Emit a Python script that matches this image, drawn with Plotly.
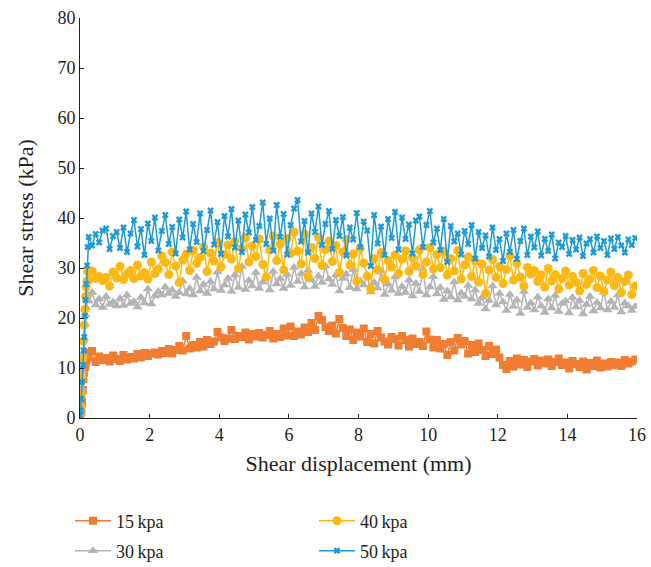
import numpy as np
import plotly.graph_objects as go

# Shear displacement grid (mm): dense start of loading, then 0.1 mm steps
ramp_x = [0.0, 0.02, 0.04, 0.06, 0.08, 0.10, 0.12, 0.14, 0.16, 0.18, 0.20, 0.22]
main_x = np.round(0.25 + 0.1 * np.arange(158), 2).tolist()

# Shear stress (kPa) during the initial rise
ramp_15 = [0.0, 0.4, 1.3, 3.2, 5.6, 7.8, 9.1, 10.2, 10.9, 11.6, 12.3, 13.1]
ramp_30 = [0.3, 1.0, 2.7, 5.8, 9.4, 12.8, 15.9, 18.7, 20.6, 22.1, 23.8, 24.6]
ramp_40 = [0.8, 2.1, 4.6, 8.3, 11.9, 15.4, 18.6, 21.7, 24.3, 26.2, 27.4, 29.3]
ramp_50 = [0.4, 1.5, 3.8, 7.2, 10.6, 13.5, 16.2, 20.4, 23.6, 26.8, 30.5, 34.2]

# Shear stress (kPa) from 0.25 mm onwards, one row per millimetre
stress_15 = [
    12.1, 13.4, 11.2, 12.3, 11.6, 12.0, 11.3, 12.5, 11.8, 11.4,
    12.6, 11.7, 12.2, 11.9, 12.8, 12.1, 13.0, 12.4, 12.9, 13.1,
    12.7, 13.4, 13.0, 13.8, 12.9, 13.6, 14.4, 13.5, 16.4, 13.9,
    14.6, 14.1, 15.2, 14.3, 15.6, 14.8, 15.3, 17.2, 16.1, 15.4,
    15.9, 17.6, 15.8, 16.4, 16.2, 17.1, 15.7, 16.8, 16.3, 17.0,
    16.1, 16.6, 17.4, 15.9, 16.8, 16.2, 17.9, 16.5, 18.3, 16.4,
    17.3, 16.7, 18.1, 17.2, 19.0, 17.6, 20.4, 19.6, 18.2, 17.4,
    18.5, 16.9, 19.8, 18.0, 16.4, 17.7, 15.6, 17.1, 16.3, 17.9,
    15.2, 16.8, 14.9, 17.4, 16.1, 15.3, 14.7, 16.2, 15.8, 14.5,
    16.4, 15.6, 14.3, 15.9, 14.8, 15.2, 14.4, 17.3, 15.7, 14.1,
    15.6, 13.9, 14.8, 12.6, 15.2, 13.5, 16.0, 14.7, 15.4, 12.9,
    14.6, 13.2, 14.9, 13.6, 12.4, 14.4, 12.8, 13.7, 12.1, 10.6,
    9.8, 11.4, 10.3, 11.9, 10.7, 11.6, 10.2, 11.3, 11.8, 10.5,
    11.5, 10.9, 11.7, 10.4, 11.2, 11.9, 10.6, 11.1, 9.9, 11.4,
    10.8, 10.2, 11.3, 9.7, 11.0, 10.4, 11.5, 10.1, 10.9, 10.3,
    11.2, 10.6, 11.1, 10.4, 11.6, 10.9, 11.3, 11.7,
]
stress_30 = [
    23.4, 25.1, 22.6, 23.8, 22.1, 24.3, 22.7, 23.2, 22.4, 23.9,
    22.5, 24.6, 22.9, 23.3, 22.2, 24.1, 23.0, 25.8, 22.8, 24.4,
    25.3, 24.6, 26.2, 24.9, 25.6, 24.3, 25.1, 27.4, 24.8, 25.9,
    24.6, 28.1, 25.4, 26.7, 24.9, 27.3, 25.8, 29.2, 25.5, 26.6,
    27.9, 25.3, 28.6, 26.1, 30.3, 25.7, 27.5, 26.4, 29.1, 25.9,
    27.2, 28.4, 25.6, 29.3, 26.8, 27.9, 25.9, 28.7, 26.5, 30.1,
    27.3, 28.9, 26.2, 29.5, 27.6, 26.3, 28.4, 27.1, 30.4, 27.8,
    26.7, 28.6, 25.4, 27.9, 28.8, 26.1, 29.7, 25.8, 27.4, 26.6,
    28.5, 25.2, 27.1, 26.0, 29.4, 24.7, 26.8, 25.5, 28.2, 24.9,
    26.3, 25.1, 27.6, 24.4, 26.9, 25.3, 29.8, 24.6, 26.2, 28.3,
    24.8, 26.1, 23.7, 25.4, 24.2, 27.2, 23.6, 25.0, 24.3, 26.5,
    23.8, 25.6, 22.9, 24.1, 21.8, 23.5, 26.4, 22.6, 24.9, 23.2,
    21.5, 24.7, 22.3, 23.6, 20.9, 25.3, 22.1, 23.0, 21.6, 24.2,
    22.4, 21.1, 23.8, 22.0, 24.5, 21.3, 22.9, 23.4, 21.0, 24.1,
    22.2, 23.5, 20.8, 22.7, 24.3, 21.4, 23.1, 22.0, 25.2, 21.6,
    23.3, 22.1, 24.6, 21.2, 23.0, 22.4, 21.5, 22.3,
]
stress_40 = [
    27.6, 29.4, 27.9, 28.3, 27.5, 28.1, 26.4, 29.2, 28.0, 30.3,
    27.7, 28.8, 29.5, 27.9, 30.6, 28.4, 29.1, 27.8, 31.2, 28.9,
    29.8, 32.4, 31.1, 28.7, 33.2, 30.4, 27.1, 31.6, 32.8, 29.5,
    33.5, 30.9, 32.1, 34.2, 29.3, 33.0, 31.4, 35.1, 30.2, 32.7,
    34.6, 31.8, 35.3, 29.9, 33.9, 36.1, 31.2, 34.4, 32.3, 35.8,
    30.7, 28.2, 33.6, 36.4, 31.5, 34.8, 29.6, 35.9, 32.9, 37.2,
    33.4, 30.8, 36.7, 28.3, 34.1, 31.9, 36.2, 30.5, 33.7, 35.4,
    31.3, 34.5, 29.1, 33.2, 35.7, 30.6, 32.8, 27.4, 33.9, 31.0,
    28.4, 25.8, 31.9, 29.6, 33.1, 27.7, 31.5, 30.2, 32.6, 28.9,
    31.8, 33.4, 29.3, 32.1, 30.4, 33.6, 28.7, 31.2, 34.1, 29.8,
    32.7, 30.1, 33.3, 28.6, 31.9, 29.4, 33.5, 27.8, 30.6, 32.2,
    28.3, 31.4, 27.2, 30.8, 24.9, 29.6, 31.7, 28.1, 30.3, 26.9,
    29.7, 32.5, 27.6, 30.9, 28.2, 26.4, 30.1, 28.8, 29.5, 27.3,
    28.6, 26.2, 29.9, 27.4, 28.7, 25.8, 27.9, 29.4, 26.6, 28.3,
    27.1, 25.4, 28.9, 26.7, 27.8, 29.5, 26.1, 28.4, 25.3, 27.6,
    29.2, 26.5, 28.1, 25.1, 27.3, 28.6, 24.7, 26.4,
]
stress_50 = [
    36.2, 34.5, 36.8, 35.1, 37.5, 37.9, 33.8, 36.4, 37.2, 34.0,
    38.1, 33.2, 36.9, 39.6, 34.3, 37.8, 32.6, 38.9, 35.4, 40.1,
    33.5, 37.4, 40.6, 34.8, 38.2, 32.9, 39.7, 36.1, 41.3, 33.7,
    38.8, 35.2, 40.9, 33.4, 37.6, 41.5, 34.7, 39.2, 32.8, 40.4,
    36.3, 41.8, 34.1, 39.5, 33.2, 40.7, 37.1, 42.2, 35.6, 38.4,
    43.1, 34.8, 39.9, 33.5, 42.6, 36.2, 40.8, 32.7, 38.6, 41.9,
    43.6, 35.3, 39.4, 33.1, 40.9, 37.2, 42.3, 34.6, 38.8, 41.4,
    33.8, 39.6, 36.4, 40.2, 32.5, 38.1, 35.7, 41.0, 34.2, 39.3,
    37.5, 30.4, 40.6, 34.9, 38.3, 32.6, 39.8, 36.0, 41.2, 33.7,
    40.1, 35.8, 38.7, 32.9, 39.5, 40.3, 34.2, 38.6, 41.4, 35.1,
    37.9, 33.6, 39.8, 31.2, 38.4, 35.3, 36.9, 32.7, 37.4, 34.8,
    38.6, 31.9, 37.2, 34.0, 36.5, 32.3, 38.1, 33.6, 35.8, 31.4,
    36.9, 33.2, 37.6, 31.8, 35.4, 37.9, 32.6, 36.3, 34.1, 37.3,
    32.5, 35.8, 33.4, 36.7, 31.9, 35.1, 34.2, 36.4, 32.8, 35.6,
    33.7, 36.1, 32.4, 34.9, 35.8, 33.1, 36.3, 34.0, 35.4, 32.6,
    35.9, 33.8, 36.2, 34.5, 33.1, 35.7, 34.6, 36.0,
]

# Legend key placement (container pixels): left edge and row centre
W, H = 651, 567
series = [
    # name, ramp, main, colour, marker symbol, marker size, legend id, key x, key y
    ("15\u2009kpa", ramp_15, stress_15, "#F07D32", "square", 8, "legend", 70, 521),
    ("30\u2009kpa", ramp_30, stress_30, "#B4B4B7", "triangle-up", 9, "legend2", 70, 551),
    ("40\u2009kpa", ramp_40, stress_40, "#FDB913", "circle", 9, "legend3", 314, 521),
    ("50\u2009kpa", ramp_50, stress_50, "#1E9AD6", "x", 6, "legend4", 314, 551),
]

FONT = "Liberation Serif"
INK = "#231F20"

fig = go.Figure()
legends = {}
for name, ramp, main, color, symbol, size, leg, kx, ky in series:
    fig.add_trace(go.Scatter(
        x=ramp_x + main_x,
        y=ramp + main,
        mode="lines+markers",
        name=name,
        legend=leg,
        line=dict(color=color, width=1.5),
        marker=dict(symbol=symbol, size=size, color=color, line=dict(width=0)),
    ))
    legends[leg] = dict(
        orientation="h",
        xref="container", yref="container",
        xanchor="left", yanchor="middle",
        x=kx / W, y=(H - ky) / H,
        itemwidth=36,
        font=dict(family=FONT, size=18, color=INK),
        bgcolor="rgba(0,0,0,0)",
    )

fig.update_layout(
    width=W,
    height=H,
    margin=dict(l=80, r=14, t=18, b=149, autoexpand=False),
    paper_bgcolor="white",
    plot_bgcolor="white",
    font=dict(family=FONT, size=18, color=INK),
    showlegend=True,
    **legends,
    xaxis=dict(
        range=[0, 16],
        tickmode="array",
        tickvals=[0, 2, 4, 6, 8, 10, 12, 14, 16],
        ticks="inside", ticklen=4, tickcolor=INK,
        showline=True, linecolor=INK, linewidth=1,
        showgrid=False, zeroline=False,
        title=dict(text="Shear displacement (mm)", standoff=12),
    ),
    yaxis=dict(
        range=[0, 80],
        tickmode="array",
        tickvals=[0, 10, 20, 30, 40, 50, 60, 70, 80],
        ticks="inside", ticklen=4, tickcolor=INK,
        showline=True, linecolor=INK, linewidth=1,
        showgrid=False, zeroline=False,
        title=dict(text="Shear stress (kPa)", standoff=17),
    ),
)

fig.write_html("out.html")
